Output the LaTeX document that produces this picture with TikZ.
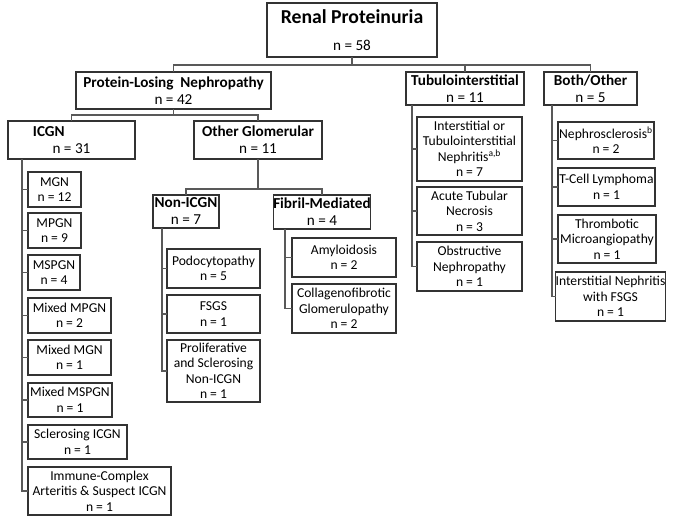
\documentclass[tikz,border=0pt]{standalone}
\usepackage{fontspec}
\setmainfont{Carlito}
\usetikzlibrary{calc}
\tikzset{
  bx/.style={draw=black!80, line width=0.8pt, inner sep=0pt, outer sep=0pt, align=center,
             font=\fontsize{10.2}{11.6}\selectfont},
  hd/.style={bx, font=\fontsize{11.4}{12.75}\selectfont},
  conn/.style={draw=black!65, line width=0.8pt},
}
% #1 style, #2 name, #3 x1, #4 x2, #5 y1, #6 y2, #7 text
\newcommand\mybox[7]{%
  \node[#1, minimum width={(#4-#3)*0.75pt}, minimum height={(#6-#5)*0.75pt}]
    (#2) at ({(#3+#4)/2},{(#5+#6)/2}) {#7};}
\begin{document}
\begin{tikzpicture}[x=0.75pt,y=-0.75pt]
\useasboundingbox (0,0) rectangle (685,524);
% level 0
\mybox{hd}{root}{267}{437}{3}{57}{{\fontsize{14.8}{17}\selectfont\bfseries Renal Proteinuria}\\[7.5pt]n = 58}
% level 1
\mybox{hd}{pln}{76}{271}{72}{109}{\textbf{Protein-Losing\ \ Nephropathy}\\n = 42}
\mybox{hd}{tubulo}{406}{524}{72}{105}{\textbf{Tubulointerstitial}\\n = 11}
\mybox{hd}{both}{544}{637}{72}{105}{\textbf{Both/Other}\\n = 5}
% level 2
\mybox{hd}{icgn}{8}{135}{121}{159}{\textbf{ICGN}\hspace*{34pt}\\n = 31}
\mybox{hd}{og}{194}{322}{121}{159}{\textbf{Other Glomerular}\\n = 11}
% level 3
\mybox{hd}{nonicgn}{153}{219}{195}{228}{\textbf{Non-ICGN}\\n = 7}
\mybox{hd}{fibril}{274}{370}{195}{229}{\textbf{Fibril-Mediated}\\n = 4}
% ICGN leaves
\mybox{bx}{mgn}{28}{81}{172}{207}{MGN\\n = 12}
\mybox{bx}{mpgn}{28}{81}{213}{248}{MPGN\\n = 9}
\mybox{bx}{mspgn}{28}{80}{255}{290}{MSPGN\\n = 4}
\mybox{bx}{mixmpgn}{28}{111}{298}{333}{Mixed MPGN\\n = 2}
\mybox{bx}{mixmgn}{28}{111}{340}{375}{Mixed MGN\\n = 1}
\mybox{bx}{mixmspgn}{28}{112}{383}{417}{Mixed MSPGN\\n = 1}
\mybox{bx}{scl}{28}{127}{425}{459}{Sclerosing ICGN\\n = 1}
\mybox{bx}{imm}{28}{171}{467}{515}{Immune-Complex\\Arteritis \& Suspect ICGN\\n = 1}
% Non-ICGN leaves
\mybox{bx}{podo}{167}{260}{249}{288}{Podocytopathy\\n = 5}
\mybox{bx}{fsgs}{167}{260}{295}{333}{FSGS\\n = 1}
\mybox{bx}{prolif}{167}{260}{340}{402}{Proliferative\\and Sclerosing\\Non-ICGN\\n = 1}
% Fibril leaves
\mybox{bx}{amy}{292}{396}{238}{277}{Amyloidosis\\n = 2}
\mybox{bx}{coll}{292}{396}{284}{333}{Collagenofibrotic\\Glomerulopathy\\n = 2}
% Tubulointerstitial leaves
\mybox{bx}{itn}{417}{522}{117}{181}{Interstitial or\\Tubulointerstitial\\Nephritis\textsuperscript{a,b}\\n = 7}
\mybox{bx}{atn}{417}{522}{187}{235}{Acute Tubular\\Necrosis\\n = 3}
\mybox{bx}{obs}{417}{522}{242}{291}{Obstructive\\Nephropathy\\n = 1}
% Both/Other leaves
\mybox{bx}{nephro}{558}{654}{122}{159}{Nephrosclerosis\textsuperscript{b}\\n = 2}
\mybox{bx}{tcell}{558}{655}{168}{206}{T-Cell Lymphoma\\n = 1}
\mybox{bx}{tma}{558}{656}{215}{263}{Thrombotic\\Microangiopathy\\n = 1}
\mybox{bx}{isn}{558}{663}{272}{321}{Interstitial Nephritis\\with FSGS\\n = 1}
% buses and spines
\coordinate (bus1) at (0,65);
\coordinate (bus2) at (0,115);
\coordinate (bus3) at (0,189);
\coordinate (spicgn) at (22,0);
\coordinate (spnon) at (162,0);
\coordinate (spfib) at (285,0);
\coordinate (sptub) at (412,0);
\coordinate (spboth) at (552,0);
% connectors
\draw[conn] (root.south) -- (root.south |- bus1);
\draw[conn] (pln.north) -- (pln.north |- bus1) -- (both.north |- bus1) -- (both.north);
\draw[conn] (tubulo.north) -- (tubulo.north |- bus1);
\draw[conn] (pln.south) -- (pln.south |- bus2);
\draw[conn] (icgn.north) -- (icgn.north |- bus2) -- (og.north |- bus2) -- (og.north);
\draw[conn] (og.south) -- (og.south |- bus3);
\draw[conn] (nonicgn.north) -- (nonicgn.north |- bus3) -- (fibril.north |- bus3) -- (fibril.north);
% spines
\draw[conn] (icgn.south -| spicgn) |- (imm.west);
\foreach \n in {mgn,mpgn,mspgn,mixmpgn,mixmgn,mixmspgn,scl}
  \draw[conn] (\n.west) -- (\n.west -| spicgn);
\draw[conn] (nonicgn.south -| spnon) |- (prolif.west);
\foreach \n in {podo,fsgs}
  \draw[conn] (\n.west) -- (\n.west -| spnon);
\draw[conn] (fibril.south -| spfib) |- (coll.west);
\draw[conn] (amy.west) -- (amy.west -| spfib);
\draw[conn] (tubulo.south -| sptub) |- (obs.west);
\foreach \n in {itn,atn}
  \draw[conn] (\n.west) -- (\n.west -| sptub);
\draw[conn] (both.south -| spboth) |- (isn.west);
\foreach \n in {nephro,tcell,tma}
  \draw[conn] (\n.west) -- (\n.west -| spboth);
\end{tikzpicture}
\end{document}
